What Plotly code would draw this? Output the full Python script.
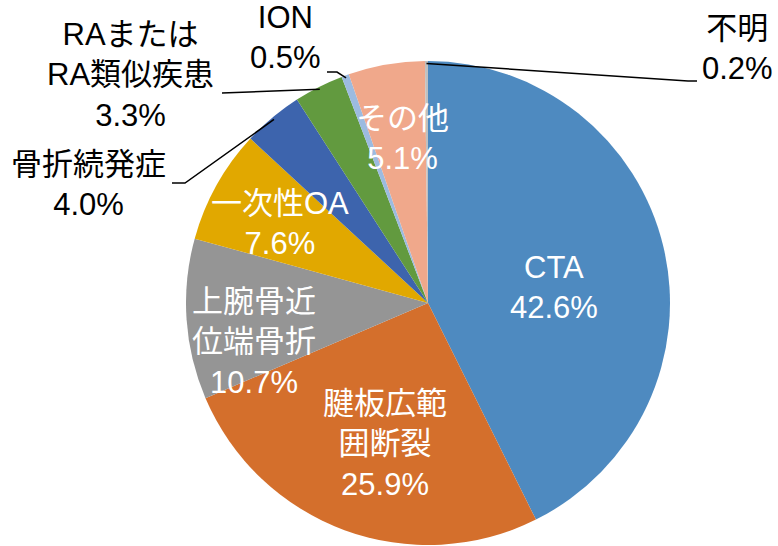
import math
import plotly.graph_objects as go

# ---- data ----
categories = ["CTA", "腱板広範囲断裂", "上腕骨近位端骨折", "一次性OA", "骨折続発症",
              "RAまたはRA類似疾患", "ION", "その他", "不明"]
label_text = ["CTA", "腱板広範<br>囲断裂", "上腕骨近<br>位端骨折", "一次性OA", "骨折続発症",
              "RAまたは<br>RA類似疾患", "ION", "その他", "不明"]
values = [42.6, 25.9, 10.7, 7.6, 4.0, 3.3, 0.5, 5.1, 0.2]

# ---- style ----
colors = ["#4E8AC0", "#D46F2C", "#959595", "#E1A800", "#3D64AD",
          "#629A3F", "#9CBBE0", "#F0A88B", "#C0C0C0"]
W, H = 778, 546
CX, CY, R = 428, 303, 242           # pie centre / radius in pixels
inside = [True, True, True, True, False, False, False, True, False]
# label centres (pixels)
label_pos = [(554, 287), (385, 444), (254, 342), (280, 223), (88, 184),
             (130, 75), (285, 38), (402, 138), (737, 48)]
# leader-line bend points (pixels) for outside labels
leader = {4: [(185, 183), (172, 183)],
          5: [(222, 93)],
          6: [(337, 72), (327, 72)],
          8: [(688, 81), (697, 81)]}
FONT = "Arial, 'Liberation Sans', 'Noto Sans CJK JP', sans-serif"
FS = 31


def px(x, y):
    return x / W, 1 - y / H


fig = go.Figure(go.Pie(
    labels=categories, values=values, sort=False, direction="clockwise",
    rotation=0, marker=dict(colors=colors, line=dict(width=0)),
    textinfo="none", hoverinfo="label+percent", showlegend=False,
    domain=dict(x=[(CX - R) / W, (CX + R) / W],
                y=[(H - CY - R) / H, (H - CY + R) / H]),
))

total = sum(values)
cum = 0.0
annotations = []
shapes = []
for i, v in enumerate(values):
    mid = (cum + v / 2) / total * 2 * math.pi
    cum += v
    x, y = px(*label_pos[i])
    annotations.append(dict(
        x=x, y=y, xref="paper", yref="paper", xanchor="center", yanchor="middle",
        text=f"{label_text[i]}<br>{v:.1f}%", showarrow=False, align="center",
        font=dict(family=FONT, size=FS, color="white" if inside[i] else "black")))
    if i in leader:
        ex = CX + R * 0.99 * math.sin(mid)
        ey = CY - R * 0.99 * math.cos(mid)
        pts = [(ex, ey)] + leader[i]
        path = "M " + " L ".join(f"{px(a, b)[0]:.5f},{px(a, b)[1]:.5f}" for a, b in pts)
        shapes.append(dict(type="path", path=path, xref="paper", yref="paper",
                           line=dict(color="black", width=1.5)))

fig.update_layout(
    width=W, height=H, margin=dict(l=0, r=0, t=0, b=0),
    paper_bgcolor="white", plot_bgcolor="white",
    annotations=annotations, shapes=shapes,
)
fig.write_html("out.html", config={"displayModeBar": False},
               post_script="document.body.style.margin='0';document.body.style.overflow='hidden';")
